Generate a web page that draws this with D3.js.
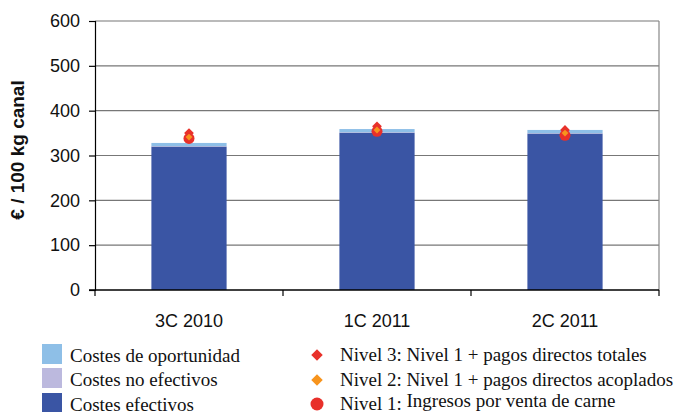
<!DOCTYPE html>
<html>
<head>
<meta charset="utf-8">
<script src="https://cdn.jsdelivr.net/npm/d3@7"></script>
<style>
  body { margin: 0; background: #fff; }
  svg { display: block; }
</style>
</head>
<body>
<svg id="chart" width="675" height="412"></svg>
<script>
// data
const periods = ["3C 2010", "1C 2011", "2C 2011"];
const costesEfectivos = [320, 351, 349];
const costesNoEfectivos = [1, 1, 1];
const costesOportunidad = [7, 7, 7];
const nivel1 = [338, 354, 345];
const nivel2 = [341, 357, 350];
const nivel3 = [350, 365, 357];
const yTicks = [0, 100, 200, 300, 400, 500, 600];

const colors = {
  efectivos: "#3A55A4",
  noEfectivos: "#BCB9DE",
  oportunidad: "#8EBFE7",
  n3: "#E8312A",
  n2: "#F7941D",
  n1: "#E8302A"
};

const sansFont = "'Liberation Sans', Arial, sans-serif";
const legendFont = "'Liberation Serif', 'Times New Roman', serif";

const margin = { top: 21, right: 16, bottom: 122, left: 95 };
const width = 675;
const height = 412;
const innerWidth = width - margin.left - margin.right;
const innerHeight = height - margin.top - margin.bottom;

const svg = d3.select("#chart");

const xScale = d3.scaleBand().domain(periods).range([0, innerWidth]).paddingInner(0).paddingOuter(0);
const yScale = d3.scaleLinear().domain([0, 600]).range([innerHeight, 0]);
const barW = xScale.bandwidth() * 0.4;

const g = svg.append("g").attr("transform", `translate(${margin.left},${margin.top})`);

// gridlines
g.append("g")
  .selectAll("line")
  .data(yTicks.filter((d) => d > 0))
  .enter()
  .append("line")
  .attr("x1", 0)
  .attr("x2", innerWidth)
  .attr("y1", (d) => yScale(d))
  .attr("y2", (d) => yScale(d))
  .attr("stroke", "#777")
  .attr("stroke-width", 1.2);

// right border
g.append("line")
  .attr("x1", innerWidth).attr("x2", innerWidth)
  .attr("y1", 0).attr("y2", innerHeight)
  .attr("stroke", "#888").attr("stroke-width", 1.2);

// stacked bars
const stacks = periods.map((p, i) => ({
  period: p,
  parts: [
    { y0: 0, y1: costesEfectivos[i], c: colors.efectivos },
    { y0: costesEfectivos[i], y1: costesEfectivos[i] + costesNoEfectivos[i], c: colors.noEfectivos },
    {
      y0: costesEfectivos[i] + costesNoEfectivos[i],
      y1: costesEfectivos[i] + costesNoEfectivos[i] + costesOportunidad[i],
      c: colors.oportunidad
    }
  ]
}));

stacks.forEach((s) => {
  g.append("g")
    .selectAll("rect")
    .data(s.parts)
    .enter()
    .append("rect")
    .attr("x", xScale(s.period) + (xScale.bandwidth() - barW) / 2)
    .attr("width", barW)
    .attr("y", (d) => yScale(d.y1))
    .attr("height", (d) => yScale(d.y0) - yScale(d.y1))
    .attr("fill", (d) => d.c);
});

// axes
const yAxis = g.append("g")
  .call(d3.axisLeft(yScale).tickValues(yTicks).tickSize(6).tickPadding(9).tickFormat(d3.format("d")));
yAxis.select(".domain").attr("stroke", "#000").attr("stroke-width", 1.2);
yAxis.selectAll(".tick line").attr("stroke", "#000").attr("stroke-width", 1.2);
yAxis.selectAll("text")
  .style("font-family", sansFont)
  .style("font-size", "18px")
  .attr("fill", "#111");

const xAxis = g.append("g").attr("transform", `translate(0,${innerHeight})`);
xAxis.append("line")
  .attr("x1", -6).attr("x2", innerWidth)
  .attr("stroke", "#000").attr("stroke-width", 1.5);
xAxis.selectAll("line.tk")
  .data([0, 1, 2, 3])
  .enter()
  .append("line")
  .attr("class", "tk")
  .attr("x1", (d) => d * xScale.step())
  .attr("x2", (d) => d * xScale.step())
  .attr("y1", 0).attr("y2", 6)
  .attr("stroke", "#000").attr("stroke-width", 1.2);
xAxis.selectAll("text")
  .data(periods)
  .enter()
  .append("text")
  .attr("x", (d) => xScale(d) + xScale.bandwidth() / 2)
  .attr("y", 37)
  .attr("text-anchor", "middle")
  .style("font-family", sansFont)
  .style("font-size", "18px")
  .attr("fill", "#111")
  .text((d) => d);

// y label
svg.append("text")
  .attr("transform", "rotate(-90)")
  .attr("x", -150)
  .attr("y", 24)
  .attr("text-anchor", "middle")
  .style("font-family", sansFont)
  .style("font-weight", "bold")
  .style("font-size", "19px")
  .attr("fill", "#111")
  .text("€ / 100 kg canal");

// markers
const cx = (i) => xScale(periods[i]) + xScale.bandwidth() / 2;

g.append("g").selectAll("path")
  .data(nivel3).enter().append("path")
  .attr("d", d3.symbol().type(d3.symbolDiamond2).size(60))
  .attr("transform", (d, i) => `translate(${cx(i)},${yScale(d)})`)
  .attr("fill", colors.n3);

g.append("g").selectAll("circle")
  .data(nivel1).enter().append("circle")
  .attr("cx", (d, i) => cx(i))
  .attr("cy", (d) => yScale(d))
  .attr("r", 5.5)
  .attr("fill", colors.n1);

g.append("g").selectAll("path")
  .data(nivel2).enter().append("path")
  .attr("d", d3.symbol().type(d3.symbolDiamond2).size(30))
  .attr("transform", (d, i) => `translate(${cx(i)},${yScale(d)})`)
  .attr("fill", colors.n2);

// legend
const leftLegend = [
  { label: "Costes de oportunidad", c: colors.oportunidad, y: 344 },
  { label: "Costes no efectivos", c: colors.noEfectivos, y: 368 },
  { label: "Costes efectivos", c: colors.efectivos, y: 393 }
];
const lg = svg.append("g");
lg.selectAll("rect")
  .data(leftLegend).enter().append("rect")
  .attr("x", 42).attr("y", (d) => d.y)
  .attr("width", 20).attr("height", 20)
  .attr("fill", (d) => d.c);
lg.selectAll("text")
  .data(leftLegend).enter().append("text")
  .attr("x", 70).attr("y", (d) => d.y + 18)
  .style("font-family", legendFont)
  .style("font-size", "19px")
  .attr("fill", "#111")
  .text((d) => d.label);

const rightLegend = [
  { pre: "Nivel 3: ", label: "Nivel 1 + pagos directos totales", type: "d", c: colors.n3, y: 355 },
  { pre: "Nivel 2: ", label: "Nivel 1 + pagos directos acoplados", type: "d", c: colors.n2, y: 380 },
  { pre: "Nivel 1: ", label: "Ingresos por venta de carne", type: "c", c: colors.n1, y: 404 }
];
const rg = svg.append("g");
rightLegend.forEach((d) => {
  if (d.type === "d") {
    rg.append("path")
      .attr("d", d3.symbol().type(d3.symbolDiamond2).size(85))
      .attr("transform", `translate(317,${d.y})`)
      .attr("fill", d.c);
  } else {
    rg.append("circle")
      .attr("cx", 317).attr("cy", d.y).attr("r", 6.5)
      .attr("fill", d.c);
  }
  const t = rg.append("text")
    .attr("x", 340).attr("y", d.y + 6)
    .style("font-family", legendFont)
    .style("font-size", "19px")
    .attr("fill", "#111");
  t.append("tspan").text(d.pre);
  t.append("tspan").attr("dy", d.type === "c" ? -3 : 0).text(d.label);
});
</script>
</body>
</html>
